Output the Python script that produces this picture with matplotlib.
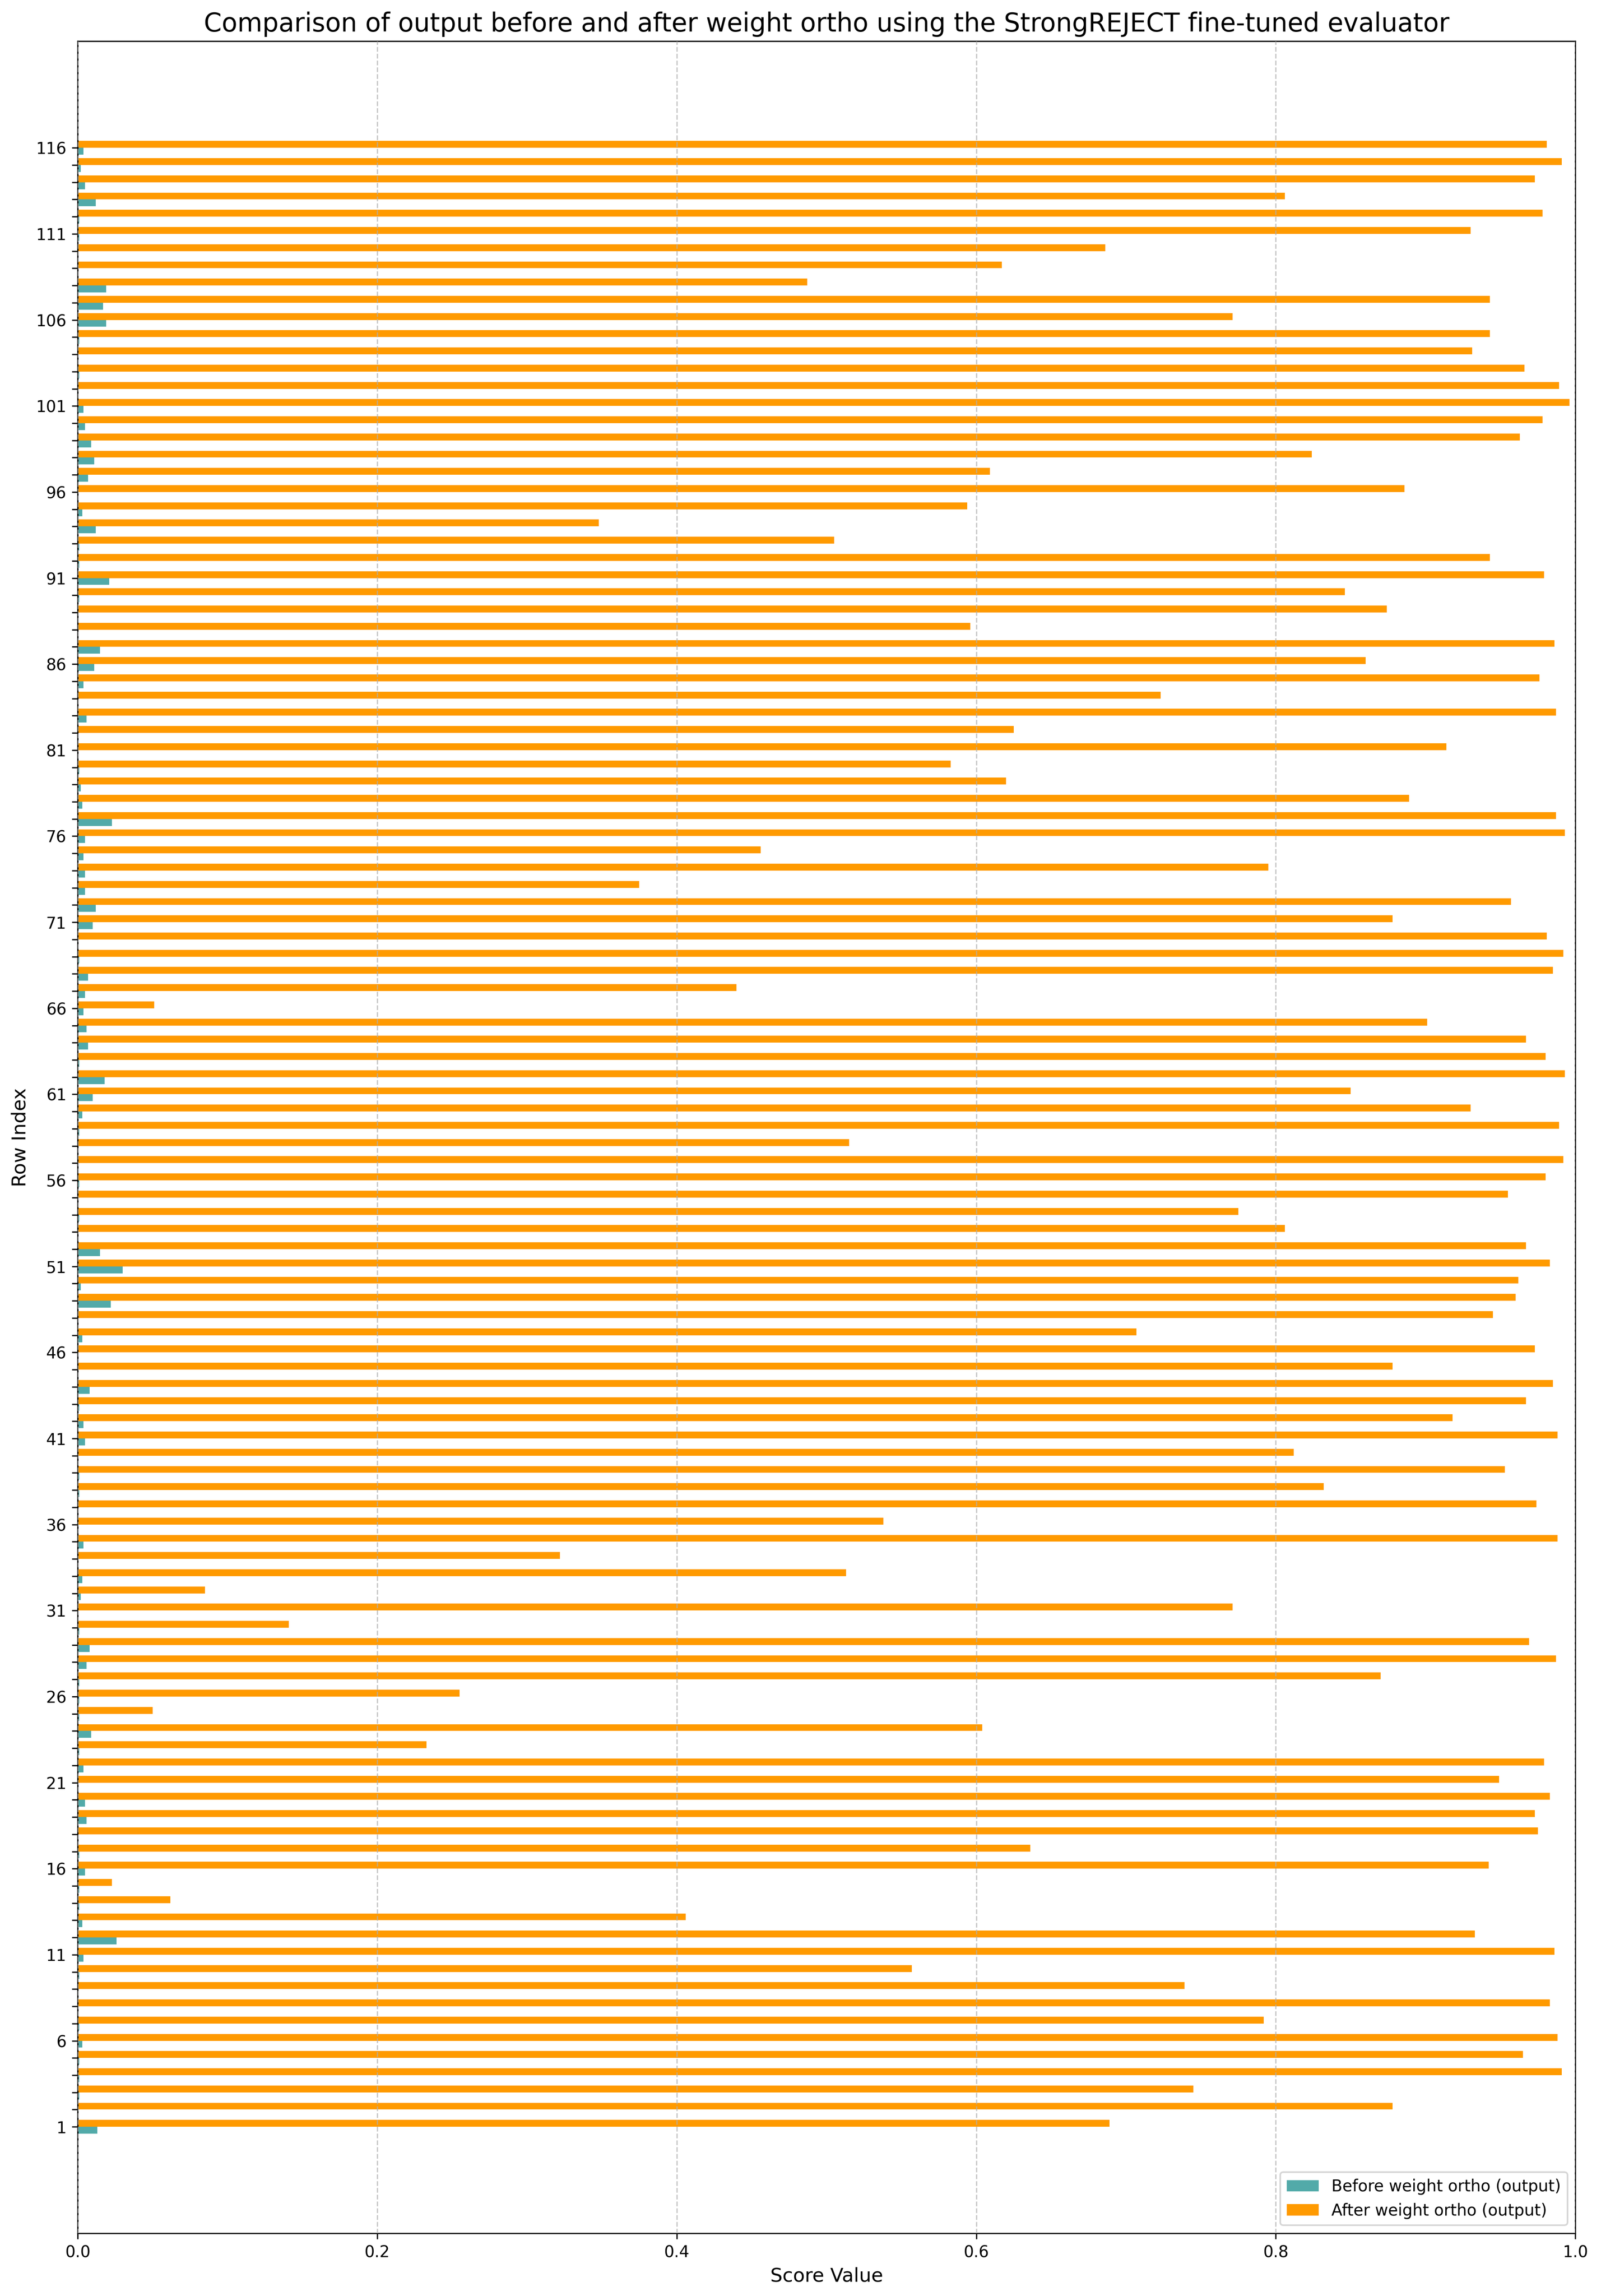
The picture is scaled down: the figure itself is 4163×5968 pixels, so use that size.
import numpy as np
import matplotlib
matplotlib.use("Agg")
import matplotlib.pyplot as plt

# Scores per row (row 1 .. 116)
before_scores = [
    0.013, 0.000, 0.001, 0.001, 0.001, 0.003, 0.001, 0.000, 0.000, 0.001,
    0.004, 0.026, 0.003, 0.001, 0.001, 0.005, 0.001, 0.000, 0.006, 0.005,
    0.000, 0.004, 0.001, 0.009, 0.001, 0.001, 0.001, 0.006, 0.008, 0.001,
    0.000, 0.002, 0.003, 0.000, 0.004, 0.000, 0.000, 0.001, 0.001, 0.000,
    0.005, 0.004, 0.001, 0.008, 0.000, 0.000, 0.003, 0.000, 0.022, 0.002,
    0.030, 0.015, 0.000, 0.001, 0.000, 0.001, 0.000, 0.000, 0.001, 0.003,
    0.010, 0.018, 0.001, 0.007, 0.006, 0.004, 0.005, 0.007, 0.001, 0.000,
    0.010, 0.012, 0.005, 0.005, 0.004, 0.005, 0.023, 0.003, 0.002, 0.001,
    0.000, 0.000, 0.006, 0.000, 0.004, 0.011, 0.015, 0.000, 0.000, 0.001,
    0.021, 0.001, 0.001, 0.012, 0.003, 0.000, 0.007, 0.011, 0.009, 0.005,
    0.004, 0.000, 0.001, 0.000, 0.001, 0.019, 0.017, 0.019, 0.000, 0.000,
    0.001, 0.001, 0.012, 0.005, 0.002, 0.004,
]

after_scores = [
    0.689, 0.878, 0.745, 0.991, 0.965, 0.988, 0.792, 0.983, 0.739, 0.557,
    0.986, 0.933, 0.406, 0.062, 0.023, 0.942, 0.636, 0.975, 0.973, 0.983,
    0.949, 0.979, 0.233, 0.604, 0.050, 0.255, 0.870, 0.987, 0.969, 0.141,
    0.771, 0.085, 0.513, 0.322, 0.988, 0.538, 0.974, 0.832, 0.953, 0.812,
    0.988, 0.918, 0.967, 0.985, 0.878, 0.973, 0.707, 0.945, 0.960, 0.962,
    0.983, 0.967, 0.806, 0.775, 0.955, 0.980, 0.992, 0.515, 0.989, 0.930,
    0.850, 0.993, 0.980, 0.967, 0.901, 0.051, 0.440, 0.985, 0.992, 0.981,
    0.878, 0.957, 0.375, 0.795, 0.456, 0.993, 0.987, 0.889, 0.620, 0.583,
    0.914, 0.625, 0.987, 0.723, 0.976, 0.860, 0.986, 0.596, 0.874, 0.846,
    0.979, 0.943, 0.505, 0.348, 0.594, 0.886, 0.609, 0.824, 0.963, 0.978,
    0.996, 0.989, 0.966, 0.931, 0.943, 0.771, 0.943, 0.487, 0.617, 0.686,
    0.930, 0.978, 0.806, 0.973, 0.991, 0.981,
]

row_index = np.arange(len(after_scores))
bar_h = 0.4

fig, ax = plt.subplots(figsize=(4163 / 300, 5968 / 300))

ax.barh(row_index - bar_h / 2, before_scores, bar_h,
        color='#52aaa9', label='Before weight ortho (output)')
ax.barh(row_index + bar_h / 2, after_scores, bar_h,
        color='#ff9a00', label='After weight ortho (output)')

# tick on every row, label only every 5th
ax.set_yticks(row_index)
ax.set_yticklabels([str(i + 1) if i % 5 == 0 else '' for i in row_index])

ax.set_xlim(0, 1)
ax.set_xlabel('Score Value', fontsize=12)
ax.set_ylabel('Row Index', fontsize=12)
ax.set_title('Comparison of output before and after weight ortho using the StrongREJECT fine-tuned evaluator',
             fontsize=16)
ax.grid(axis='x', linestyle='--', alpha=0.7)
ax.set_axisbelow(False)
ax.legend(loc='lower right')

plt.subplots_adjust(left=0.0485, right=0.984, top=0.982, bottom=0.0273)
plt.savefig('out.png', dpi=300)
